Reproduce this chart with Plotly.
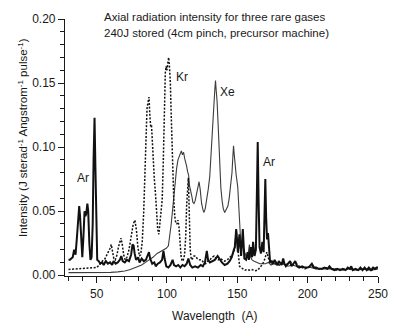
import plotly.graph_objects as go

# Argon spectrum (wavelength in Angstrom, intensity in J sterad^-1 A^-1 pulse^-1)
ar_wl = [30, 31, 32, 33, 34, 35, 36, 37, 37.6, 38.2, 39, 39.8, 40.6, 41.4, 42, 42.6, 43.4, 44, 44.8,
         45.6, 46.4, 47.2, 47.8, 48.5, 49.1, 49.7, 50.4, 51.5, 52.5, 54, 55, 56.5, 58, 59.5, 61, 62,
         63.5, 65, 66.5, 67.5, 68.5, 70, 71.5, 73, 74.5, 75.5, 76.3, 77, 78, 79.5, 80.5, 82, 83.5, 85,
         86.2, 87.2, 88, 89.5, 91, 92, 93.5, 95, 96.5, 97.5, 98.3, 99.5, 101, 102.5, 104, 105, 106.5,
         108, 109.5, 111, 112.5, 114, 115.2, 116.5, 118, 120, 122, 124, 125.5, 127, 128.3, 129.2,
         130.5, 132, 134, 136, 137.5, 139, 141, 143, 144.5, 146, 147.3, 148.2, 149.2, 150.4, 151.5,
         152.7, 153.9, 155, 156.2, 157.3, 158.2, 159.5, 160.5, 161.2, 162.2, 163.2, 164, 164.5, 165.1,
         165.8, 166.8, 167.8, 168.7, 169.4, 169.9, 170.5, 171.1, 171.8, 172.5, 173.3, 174.5, 175.5,
         176.5, 177.5, 178.5, 179.5, 180.5, 181.5, 182.6, 183.5, 184.5, 186, 187.5, 188.5, 190, 191.2,
         192.5, 194, 196, 198, 200, 201.5, 203, 204.5, 206, 208, 210, 212, 214, 215.5, 217, 219, 221,
         223, 225, 227, 228.5, 230, 231, 232, 234, 236, 237.5, 239, 240.5, 242, 243.5, 245, 246.5,
         248, 249, 250]
ar_int = [0.012, 0.012, 0.013, 0.014, 0.020, 0.016, 0.030, 0.048, 0.054, 0.046, 0.022, 0.014, 0.030,
          0.050, 0.046, 0.048, 0.056, 0.050, 0.025, 0.012, 0.014, 0.040, 0.090, 0.123, 0.085, 0.030,
          0.012, 0.011, 0.009, 0.010, 0.008, 0.011, 0.009, 0.010, 0.008, 0.011, 0.009, 0.010, 0.012,
          0.015, 0.011, 0.010, 0.012, 0.011, 0.016, 0.024, 0.023, 0.017, 0.012, 0.014, 0.010, 0.013,
          0.011, 0.012, 0.016, 0.018, 0.013, 0.009, 0.010, 0.007, 0.009, 0.010, 0.012, 0.019, 0.013,
          0.007, 0.006, 0.008, 0.012, 0.008, 0.007, 0.008, 0.006, 0.008, 0.007, 0.009, 0.013, 0.008,
          0.006, 0.007, 0.006, 0.008, 0.007, 0.010, 0.019, 0.012, 0.010, 0.011, 0.012, 0.015, 0.012,
          0.010, 0.008, 0.009, 0.011, 0.014, 0.019, 0.022, 0.036, 0.018, 0.032, 0.015, 0.036, 0.013,
          0.012, 0.018, 0.012, 0.022, 0.014, 0.026, 0.015, 0.020, 0.070, 0.104, 0.060, 0.022, 0.017,
          0.026, 0.018, 0.050, 0.075, 0.045, 0.028, 0.033, 0.020, 0.010, 0.011, 0.009, 0.012, 0.010,
          0.008, 0.011, 0.009, 0.008, 0.013, 0.009, 0.007, 0.009, 0.011, 0.007, 0.009, 0.011, 0.007,
          0.006, 0.007, 0.006, 0.006, 0.007, 0.009, 0.006, 0.006, 0.005, 0.005, 0.006, 0.005, 0.007,
          0.005, 0.004, 0.005, 0.004, 0.005, 0.004, 0.006, 0.005, 0.007, 0.004, 0.005, 0.004, 0.006,
          0.004, 0.006, 0.004, 0.006, 0.004, 0.006, 0.005, 0.006, 0.006]

# Krypton spectrum
kr_wl = [30, 35, 40, 45, 48, 50, 52, 54, 56, 58, 59.5, 60.4, 61.2, 62.2, 63.2, 64.5, 65.5, 66.5, 67.3,
         68.2, 69.2, 70.3, 71.5, 73, 74.5, 76, 77.2, 78.3, 79.3, 80.4, 81.3, 82.4, 83.4, 84.2, 85,
         85.8, 86.5, 87.2, 87.8, 88.4, 89, 89.5, 90.3, 91, 91.8, 92.6, 93.4, 94.2, 95, 95.8, 96.6,
         97.4, 98.2, 98.8, 99.4, 100, 100.6, 101.2, 101.8, 102.4, 103, 103.6, 104.2, 104.8, 105.5,
         106.2, 107, 107.8, 108.5, 109.2, 110, 110.8, 111.6, 112.5, 113.3, 114, 114.6, 115.2, 115.8,
         116.5, 117.3, 118.2, 119.2, 120.2, 121.5, 123, 124.6, 126, 127.5, 129, 130.5, 132, 133.5,
         135, 136.5, 138, 139.5, 141, 142.5, 144, 145.5, 147, 148, 148.8, 149.4, 150, 150.8, 151.6,
         152.5, 154, 155.5, 157, 158.5, 160, 161.5, 163, 164.5, 166, 167.5, 169, 170.2, 171, 172, 173,
         174, 176, 178, 180, 182, 184, 186, 188, 190, 192, 194, 196, 198, 200, 203, 206, 210, 215,
         220, 225, 230, 235, 240, 245, 250]
kr_int = [0.0045, 0.0048, 0.005, 0.0052, 0.0055, 0.006, 0.008, 0.011, 0.013, 0.017, 0.021, 0.024,
          0.019, 0.013, 0.012, 0.016, 0.022, 0.027, 0.029, 0.024, 0.016, 0.012, 0.014, 0.020, 0.030,
          0.040, 0.043, 0.035, 0.022, 0.015, 0.016, 0.026, 0.048, 0.075, 0.110, 0.130, 0.135, 0.139,
          0.125, 0.116, 0.117, 0.105, 0.090, 0.075, 0.064, 0.048, 0.036, 0.032, 0.040, 0.050, 0.059,
          0.090, 0.135, 0.158, 0.163, 0.160, 0.166, 0.170, 0.162, 0.150, 0.125, 0.100, 0.078, 0.060,
          0.046, 0.041, 0.040, 0.043, 0.038, 0.022, 0.015, 0.011, 0.012, 0.016, 0.030, 0.055, 0.074,
          0.076, 0.050, 0.020, 0.012, 0.013, 0.015, 0.015, 0.013, 0.012, 0.012, 0.010, 0.009, 0.011,
          0.012, 0.014, 0.015, 0.013, 0.012, 0.013, 0.012, 0.011, 0.012, 0.013, 0.015, 0.017, 0.020,
          0.030, 0.034, 0.025, 0.012, 0.007, 0.006, 0.005, 0.004, 0.0045, 0.004, 0.0045, 0.004, 0.0035,
          0.004, 0.006, 0.008, 0.011, 0.015, 0.018, 0.014, 0.010, 0.009, 0.010, 0.009, 0.008, 0.010,
          0.008, 0.009, 0.010, 0.008, 0.009, 0.007, 0.006, 0.005, 0.006, 0.007, 0.005, 0.005, 0.006,
          0.004, 0.005, 0.005, 0.004, 0.005, 0.004, 0.005]

# Xenon spectrum
xe_wl = [30, 40, 50, 55, 60, 65, 70, 74, 78, 82, 86, 90, 93, 96, 98, 99.5, 101, 102, 103, 103.8,
         104.8, 105.8, 106.8, 107.8, 108.6, 109.4, 110.2, 111, 111.8, 112.6, 113.4, 114, 114.6, 115.4,
         116, 116.8, 117.6, 118.4, 119.2, 120, 121, 122, 122.8, 123.6, 124.6, 125.6, 126.3, 127.2,
         128.2, 129.3, 130.4, 131.2, 132.3, 133.2, 134, 134.5, 135, 135.6, 136.3, 137, 137.5, 138.3,
         139.2, 140, 141, 142, 143.3, 144.2, 145.2, 146.2, 146.8, 147.3, 147.9, 148.4, 149.2, 150.3,
         151, 151.5, 152.3, 153.2, 154.2, 155.2, 156.5, 157.6, 158.6, 159.5, 160.5, 162, 164, 166, 168,
         170, 172, 174, 176, 178, 180, 183, 186, 189, 192, 195, 198, 202, 206, 210, 215, 220, 225, 230,
         235, 240, 245, 250]
xe_int = [0.002, 0.002, 0.002, 0.002, 0.0022, 0.0026, 0.0033, 0.0045, 0.006, 0.008, 0.011, 0.014,
          0.017, 0.019, 0.020, 0.021, 0.023, 0.030, 0.040, 0.049, 0.060, 0.074, 0.083, 0.090, 0.093,
          0.095, 0.097, 0.094, 0.096, 0.091, 0.088, 0.085, 0.081, 0.078, 0.070, 0.064, 0.062, 0.057,
          0.056, 0.058, 0.063, 0.070, 0.073, 0.067, 0.056, 0.051, 0.049, 0.052, 0.058, 0.067, 0.077,
          0.090, 0.111, 0.130, 0.145, 0.152, 0.144, 0.136, 0.119, 0.100, 0.081, 0.068, 0.058, 0.052,
          0.049, 0.051, 0.054, 0.060, 0.069, 0.080, 0.092, 0.101, 0.093, 0.085, 0.078, 0.069, 0.052,
          0.036, 0.028, 0.024, 0.022, 0.018, 0.014, 0.016, 0.024, 0.014, 0.012, 0.011, 0.010, 0.009,
          0.009, 0.009, 0.010, 0.008, 0.009, 0.008, 0.008, 0.009, 0.007, 0.008, 0.007, 0.006, 0.006,
          0.006, 0.005, 0.005, 0.005, 0.005, 0.004, 0.005, 0.004, 0.005, 0.004, 0.005]

# Gas labels placed next to their features (wavelength, intensity)
labels = ["Ar", "Kr", "Xe", "Ar"]
label_wl = [40.5, 110.8, 143.3, 172.8]
label_int = [0.076, 0.155, 0.143, 0.0885]

title_lines = ["Axial radiation intensity for three rare gases",
               "240J stored (4cm pinch, precursor machine)"]

FONT = "Liberation Sans, Arial, Helvetica, sans-serif"
INK = "#1a1a1a"

fig = go.Figure()
fig.add_trace(go.Scatter(x=xe_wl, y=xe_int, mode="lines", name="Xe",
                         line=dict(color="#3c3c3c", width=1.1)))
fig.add_trace(go.Scatter(x=kr_wl, y=kr_int, mode="lines", name="Kr",
                         line=dict(color="#111111", width=1.5, dash="2px,1.6px")))
fig.add_trace(go.Scatter(x=ar_wl, y=ar_int, mode="lines", name="Ar",
                         line=dict(color="#111111", width=2)))

for txt, lx, ly in zip(labels, label_wl, label_int):
    fig.add_annotation(x=lx, y=ly, text=txt, showarrow=False,
                       font=dict(family=FONT, size=12, color=INK))

for i, line in enumerate(title_lines):
    fig.add_annotation(xref="paper", yref="paper", x=0.118, y=1.008 - i * 0.064,
                       xanchor="left", yanchor="middle", text=line, showarrow=False,
                       font=dict(family=FONT, size=11.5, color=INK))

fig.add_annotation(xref="paper", yref="paper", x=-0.135, y=0.54, textangle=-90,
                   text="Intensity (J sterad<sup>-1</sup> Angstrom<sup>-1</sup> pulse<sup>-1</sup>)",
                   showarrow=False, xanchor="center", yanchor="middle",
                   font=dict(family=FONT, size=11.5, color=INK))
fig.add_annotation(xref="paper", yref="paper", x=0.48, y=-0.155,
                   text="Wavelength  (A)", showarrow=False, xanchor="center", yanchor="middle",
                   font=dict(family=FONT, size=12, color=INK))

axis_common = dict(showline=True, linecolor=INK, linewidth=1.2, ticks="outside",
                   tickcolor=INK, tickwidth=1.1, showgrid=False, zeroline=False,
                   tickfont=dict(family=FONT, size=12, color=INK))

fig.update_xaxes(range=[27.5, 250], tickvals=[50, 100, 150, 200, 250], ticklen=6,
                 minor=dict(dtick=10, tick0=0, ticklen=4, ticks="outside", tickcolor=INK,
                            tickwidth=1),
                 **axis_common)
fig.update_yaxes(range=[-0.0006, 0.2], tickvals=[0.0, 0.05, 0.10, 0.15, 0.20], tickformat=".2f",
                 ticklen=6,
                 minor=dict(dtick=0.01, tick0=0, ticklen=4, ticks="outside", tickcolor=INK,
                            tickwidth=1),
                 **axis_common)

fig.update_layout(width=400, height=330, showlegend=False,
                  margin=dict(l=65, r=18, t=19, b=54),
                  plot_bgcolor="white", paper_bgcolor="white")

fig.write_html("out.html")
